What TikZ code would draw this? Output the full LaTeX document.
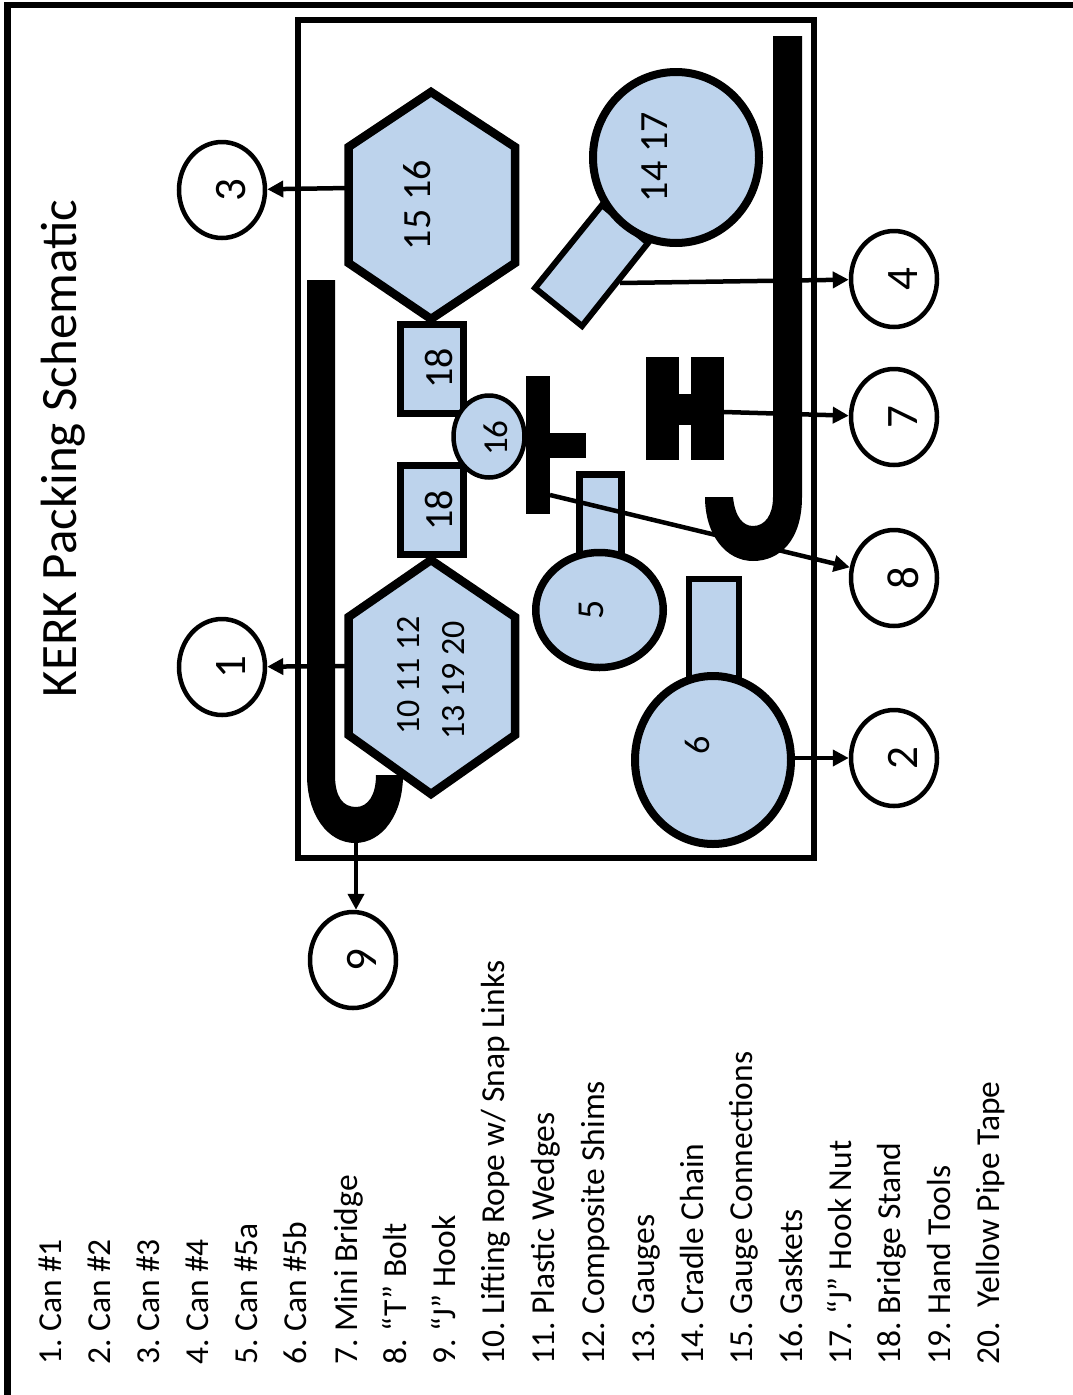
\documentclass[tikz,border=0pt]{standalone}
\usepackage{fontspec}
\setmainfont{Carlito}
\usetikzlibrary{shapes.geometric,arrows.meta}
\definecolor{canblue}{HTML}{BDD3EC}
\tikzset{
  partline/.style={draw=black,line width=8.5pt,fill=canblue,line join=miter},
  partbox/.style={partline,rectangle,inner sep=0pt,line width=7pt},
  partoval/.style={partline,ellipse,inner sep=0pt,line width=8pt},
  parttext/.style={rotate=90,inner sep=0pt,font=\fontsize{#1}{#1}\selectfont},
  callout/.style={draw=black,line width=4.5pt,fill=white,ellipse,minimum width=86pt,minimum height=96pt,inner sep=0pt},
  leader/.style={line width=4.5pt,-{Triangle[length=16pt,width=16pt]}},
  listitem/.style={rotate=90,anchor=base west,inner sep=0pt,font=\fontsize{33.5}{33.5}\selectfont}
}
\begin{document}
\frenchspacing
\begin{tikzpicture}[x=1pt,y=-1pt]
\useasboundingbox (0,0) rectangle (1073,1395);
% page frame
\draw[line width=6.5pt] (7.5,1395) -- (7.5,5) -- (1073,5);
\node[parttext=51,anchor=base] (title) at (76,448.5) {KERK Packing Schematic};
% case
\draw[line width=6pt] (298,20) rectangle (814,858);
% hooks
\fill (773,36) -- (802,36) -- (802,497) .. controls (802,540) and (780,561) .. (753,561) .. controls (726,561) and (705,535) .. (705,497) -- (733,497) .. controls (735,517) and (743,526) .. (753,526) .. controls (765,526) and (773,515) .. (773,497) -- cycle;
\fill (307,280) -- (335,280) -- (335,775) .. controls (335,797) and (343,807) .. (356,807) .. controls (368,807) and (376,795) .. (376,775) -- (403,775) .. controls (403,815) and (382,843) .. (355,843) .. controls (328,843) and (307,815) .. (307,775) -- cycle;
\coordinate (hookbottom) at (356,843);
% cans
\draw[partline] (431,92) -- (515,147) -- (515,263) -- (431,319) -- (348.5,263) -- (348.5,147) -- cycle;
\node[parttext=40] (canthree) at (417,205) {15 16};
\coordinate (canthreeleft) at (348.5,188);
\draw[partline] (431,560) -- (515,617) -- (515,735) -- (431,794) -- (348.5,735) -- (348.5,617) -- cycle;
\node[parttext=34] (canonea) at (409,675.5) {10 11 12};
\node[parttext=34] (canoneb) at (453.5,680.5) {13 19 20};
\coordinate (canoneleft) at (348.5,666);
\draw[partline,line width=6pt] (535,288) -- (582,326) -- (648,243) -- (602,205) -- cycle;
\coordinate (canfourneck) at (620,283);
\node[partoval,minimum width=166pt,minimum height=171pt] (canfour) at (676,157.5) {};
\node[parttext=40] (canfourtext) at (655,157) {14 17};
\node[partbox,minimum width=42pt,minimum height=81pt] (fiveneck) at (600.5,515) {};
\node[partoval,line width=7.5pt,minimum width=127.5pt,minimum height=115pt] (canfive) at (599.5,610) {};
\node[parttext=38] (canfivetext) at (591,610) {5};
\node[partbox,line width=6pt,minimum width=50pt,minimum height=99pt] (sixneck) at (714,628) {};
\node[partoval,minimum width=156pt,minimum height=168pt] (cansix) at (713,760) {};
\node[parttext=36] (cansixtext) at (697,745) {6};
% bridge stands and gasket
\node[partbox,minimum width=63pt,minimum height=89pt] (standtop) at (432,368.5) {};
\node[parttext=40] (standtoptext) at (438.5,368) {18};
\node[partbox,minimum width=63pt,minimum height=88.5pt] (standbottom) at (432,510) {};
\node[parttext=40] (standbottomtext) at (438.5,510) {18};
\node[partoval,line width=4.5pt,minimum width=71pt,minimum height=82pt] (gasket) at (489,436.5) {};
\node[parttext=35] (gaskettext) at (496,438) {16};
% t bolt
\fill (526,376) rectangle (550,514);
\fill (550,433) rectangle (586,458);
\coordinate (boltend) at (550,495);
% mini bridge
\fill (646,357) rectangle (679,460);
\fill (691,357) rectangle (724,460);
\fill (679,394) rectangle (691,425);
\coordinate (bridgeend) at (724,412);
% callouts
\foreach \n/\x/\y in {1/222/667,2/894/758,3/222/190,4/894/279,7/894/417,8/894/578,9/353/960}{
  \node[callout] (call\n) at (\x,\y) {};
  \node[parttext=45] (num\n) at ([xshift=9pt]call\n.center) {\n};
}
% leaders
\draw[leader] (canoneleft) -- (call1);
\draw[leader] (canthreeleft) -- (call3);
\draw[leader] (cansix.east |- call2) -- (call2);
\draw[leader] (canfourneck) -- (call4);
\draw[leader] (bridgeend) -- (call7);
\draw[leader] (boltend) -- (call8);
\draw[leader] (hookbottom) -- (hookbottom |- call9.north);
% parts list
\foreach \i/\x/\t in {1/61/{1. Can \#1},2/110/{2. Can \#2},3/159/{3. Can \#3},4/208/{4. Can \#4},5/257/{5. Can \#5a},6/306/{6. Can \#5b},7/357/{7. Mini Bridge},8/406/{8. “T” Bolt},9/455/{9. “J” Hook},10/504/{10. Lifting Rope w/ Snap Links},11/554/{11. Plastic Wedges},12/604/{12. Composite Shims},13/654/{13. Gauges},14/703/{14. Cradle Chain},15/752/{15. Gauge Connections},16/802/{16. Gaskets},17/851/{17. “J” Hook Nut},18/900/{18. Bridge Stand},19/950/{19. Hand Tools},20/999/{20.\ \ Yellow Pipe Tape}}
  \node[listitem] (item\i) at (\x,1365) {\t};
\end{tikzpicture}
\end{document}
